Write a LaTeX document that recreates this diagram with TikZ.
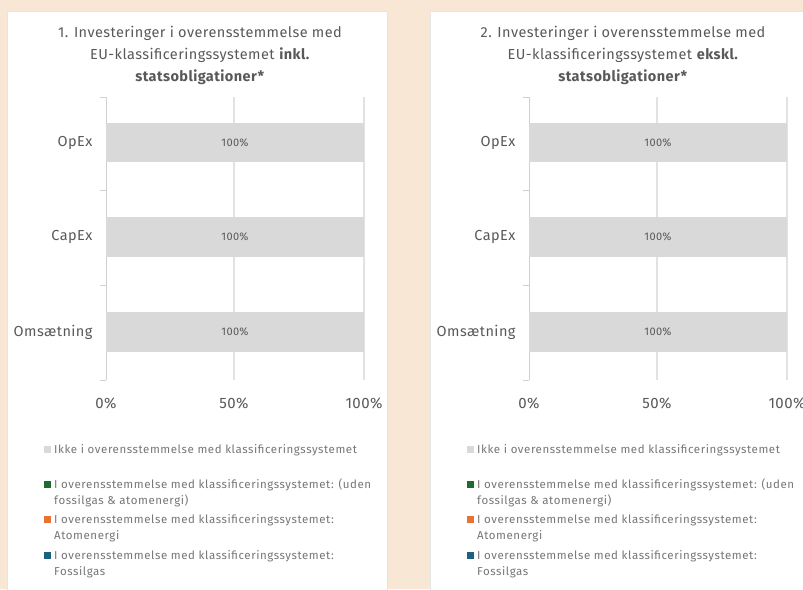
\documentclass[tikz,border=0pt]{standalone}
\usepackage{fontspec}
\setmainfont{Fira Sans}
\newfontfamily\chartfont[LetterSpace=3]{Fira Sans}
\newfontfamily\keyfont[LetterSpace=5]{Fira Sans}
\usepackage{xcolor}
\usepackage{tikz}
\definecolor{paper}{HTML}{F9E7D5}
\definecolor{barfill}{HTML}{D9D9D9}
\definecolor{gridgray}{HTML}{E2E2E2}
\definecolor{axisgray}{HTML}{D0D0D0}
\definecolor{textgray}{HTML}{595959}
\definecolor{legendgray}{HTML}{767676}
\definecolor{taxgreen}{HTML}{1E6B30}
\definecolor{taxorange}{HTML}{E97132}
\definecolor{taxblue}{HTML}{1F5F80}
\tikzstyle{panel} = [fill=white, draw=gray!20]
\tikzstyle{bar} = [fill=barfill]
\tikzstyle{gridline} = [draw=gridgray, line width=1.3pt]
\tikzstyle{axisline} = [draw=axisgray, line width=1pt]
\tikzstyle{title} = [align=center, text=textgray, font=\chartfont\fontsize{14.5}{22}\selectfont]
\tikzstyle{category} = [anchor=east, text=textgray, font=\chartfont\fontsize{14.5}{16}\selectfont]
\tikzstyle{barlabel} = [text=textgray, font=\chartfont\fontsize{11}{12}\selectfont]
\tikzstyle{ticklabel} = [text=textgray, font=\chartfont\fontsize{15}{16}\selectfont]
\tikzstyle{legendtext} = [anchor=base west, align=left, inner sep=0pt, text=legendgray, font=\keyfont\fontsize{11.5}{16.5}\selectfont]
\tikzstyle{swatch} = [minimum size=7pt, inner sep=0pt]

\begin{document}
\begin{tikzpicture}[x=1pt, y=-1pt]
\fill [paper] (0,0) rectangle (803,589);
\useasboundingbox (0,0) rectangle (803,589);
\foreach \dx/\n/\incl in {0/1/inkl., 423/2/ekskl.} {
  \draw [panel] (7+\dx,11) rectangle (387+\dx,600);
  \node [title] (title\n) at (200+\dx,55) {\n. Investeringer i overensstemmelse med\\EU-klassificeringssystemet \textbf{\incl}\\\textbf{statsobligationer*}};
  % grid and axis
  \path [gridline] (234+\dx,97) -- (234+\dx,380);
  \path [gridline] (364+\dx,97) -- (364+\dx,380);
  \path [axisline] (106+\dx,97) -- (106+\dx,380);
  \path [axisline] (100+\dx,97) -- (106+\dx,97);
  \path [axisline] (100+\dx,190) -- (106+\dx,190);
  \path [axisline] (100+\dx,285) -- (106+\dx,285);
  \path [axisline] (100+\dx,380) -- (106+\dx,380);
  % bars
  \fill [bar] (106+\dx,123) rectangle (364+\dx,162);
  \fill [bar] (106+\dx,217) rectangle (364+\dx,257);
  \fill [bar] (106+\dx,312) rectangle (364+\dx,352);
  \node [barlabel] (opexval\n) at (235+\dx,142.5) {100\%};
  \node [barlabel] (capexval\n) at (235+\dx,237) {100\%};
  \node [barlabel] (omsval\n) at (235+\dx,332) {100\%};
  \node [category] (opex\n) at (96+\dx,142.5) {OpEx};
  \node [category] (capex\n) at (96+\dx,237) {CapEx};
  \node [category] (oms\n) at (96+\dx,332) {Omsætning};
  \node [ticklabel] (zero\n) at (106+\dx,403) {0\%};
  \node [ticklabel] (half\n) at (234+\dx,403) {50\%};
  \node [ticklabel] (full\n) at (364+\dx,403) {100\%};
  % legend (base of a two-line text is its second line)
  \node [swatch, fill=barfill] (keygray\n) at (47+\dx,449) {};
  \node [legendtext] (textgray\n) at (54+\dx,453) {Ikke i overensstemmelse med klassificeringssystemet};
  \node [swatch, fill=taxgreen] (keygreen\n) at (47+\dx,484) {};
  \node [legendtext] (textgreen\n) at (54+\dx,504.5) {I overensstemmelse med klassificeringssystemet: (uden\\fossilgas \& atomenergi)};
  \node [swatch, fill=taxorange] (keyorange\n) at (47+\dx,519) {};
  \node [legendtext] (textorange\n) at (54+\dx,539.5) {I overensstemmelse med klassificeringssystemet:\\Atomenergi};
  \node [swatch, fill=taxblue] (keyblue\n) at (47+\dx,555) {};
  \node [legendtext] (textblue\n) at (54+\dx,575.5) {I overensstemmelse med klassificeringssystemet:\\Fossilgas};
}
\end{tikzpicture}
\end{document}
